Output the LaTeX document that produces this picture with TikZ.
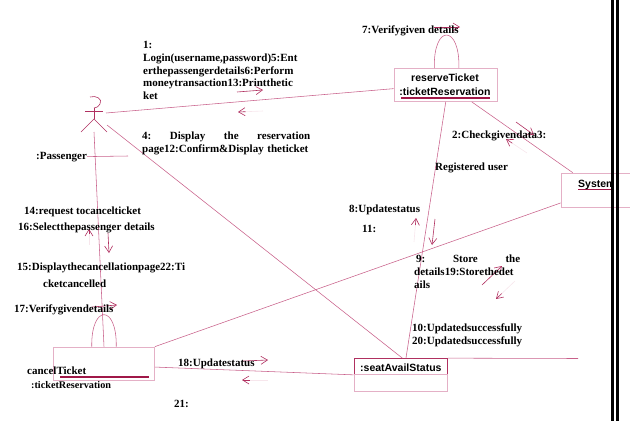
\documentclass[tikz,border=0pt]{standalone}
\usepackage{fontspec}
\setmainfont{Liberation Serif}
\setsansfont{Liberation Sans}
\usetikzlibrary{arrows.meta,calc}
\definecolor{linkpink}{HTML}{C8608A}
\definecolor{boxpink}{HTML}{E4B0C6}
\definecolor{msgdark}{HTML}{B03060}
\definecolor{msgpale}{HTML}{F7E6EC}
\definecolor{barbdark}{HTML}{A01848}
\tikzset{
  linkline/.style={draw=linkpink,line width=0.55pt},
  objbox/.style={draw=boxpink,line width=0.7pt,minimum width=#1,inner sep=0pt},
  msgarrow/.style={draw=msgdark,line width=0.6pt,-{Straight Barb[length=6.5pt,width=8pt]}},
  msgfaint/.style={draw=msgpale,line width=0.6pt},
  underbar/.style={draw=barbdark,line width=1.3pt},
  msgtext/.style={font=\fontsize{11}{12.8}\selectfont\bfseries,inner sep=0pt,anchor=west,align=left},
  objtext/.style={font=\fontsize{10.5}{14}\selectfont\sffamily\bfseries,inner sep=0pt,align=center}
}
\newcommand{\faintmsg}[2]{\draw[msgfaint] #1 -- #2; \draw[msgarrow] ($#1!0.7!#2$) -- #2;}
\begin{document}
\begin{tikzpicture}[x=1pt,y=-1pt]
    \useasboundingbox (0,0) rectangle (630,421);

    % boxes
    \node[objbox=103.5pt,minimum height=33pt] (reserve) at (445.75,85) {};
    \node[objbox=101pt,minimum height=33pt] (cancel) at (104,363.5) {};
    \node[objbox=79pt,minimum height=34pt] (system) at (600.5,190) {};
    \node[objbox=93.5pt,minimum height=16pt,draw=msgdark] (seat) at (400.75,366.5) {};
    \node[objbox=93.5pt,minimum height=16.5pt] (seatlow) at (400.75,382.75) {};

    % actor
    \draw[draw=msgdark,line width=0.6pt] (90,97) .. controls (96,95) and (103,99) .. (100,104) .. controls (98,107) and (96,108) .. (94,108);
    \draw[draw=msgdark,line width=0.6pt] (94,108) -- (94,119);
    \draw[draw=msgdark,line width=0.6pt] (85,111) -- (103,111);
    \draw[draw=msgdark,line width=0.6pt] (81,132) -- (94,119) -- (107,132);
    \coordinate (actorHand) at (106,113);
    \coordinate (actorHip) at (107,125);
    \coordinate (actorFoot) at (94,132);
    \coordinate (seatEnd) at (578,358.5);
    \coordinate (nameEnd) at (128,156);

    % links
    \draw[linkline] (actorHand) -- (reserve.184);
    \draw[linkline] (actorHip) -- (seat.79);
    \draw[linkline] (actorFoot) -- (cancel.north);
    \draw[linkline] (reserve.south) -- (seat.58);
    \draw[linkline] (reserve.-33) -- (system.148);
    \draw[linkline] (cancel.north east) -- (system.198);
    \draw[linkline] (cancel.-4) -- (seat.south west);
    \draw[linkline] (seat.north east) -- (seatEnd);
    \draw[linkline] (reserve.124) .. controls (433,24) and (460,24) .. (reserve.52);
    \draw[linkline] (cancel.126) .. controls (91,304) and (117,304) .. (cancel.54);

    % underlines
    \draw[underbar] (401,98) -- (490,98);
    \draw[underbar] (60,377) -- (149,377);
    \draw[underbar] (578,189.5) -- (611,189.5);

    % message arrows
    \draw[msgarrow] (237,92) -- (263,90);
    \faintmsg{(263,111)}{(238,112)}
    \draw[msgarrow] (434,27) -- (460,27);
    \draw[msgarrow] (516,122) -- (534,135);
    \faintmsg{(527,153)}{(506,139)}
    \draw[msgarrow] (108,233) -- (109,253);
    \faintmsg{(89,245)}{(89,229)}
    \draw[msgarrow] (92,307) -- (117,305);
    \draw[msgarrow] (243,361) -- (268,360);
    \faintmsg{(268,380)}{(242,380)}
    \faintmsg{(414,242)}{(416,218)}
    \draw[msgarrow] (435,219) -- (432,245);
    \draw[msgarrow] (482,285) -- (502,266);
    \faintmsg{(515,281)}{(496,299)}

    % object names
    \node[objtext] (reservename) at (445,85) {reserveTicket\\:ticketReservation};
    \node[objtext,anchor=west] (seatname) at (360,368) {:seatAvailStatus};
    \begin{scope}
      \clip (561,173) rectangle (611,207);
      \node[objtext,anchor=west] (systemname) at (578,185) {System};
    \end{scope}

    % messages
    \node[msgtext,anchor=north west] (msgone) at (143,41) {1:\\Login(username,password)5:Ent\\erthepassengerdetails6:Perform\\moneytransaction13:Printthetic\\ket};
    \node[msgtext,anchor=north west,text width=168pt] (msgfour) at (142,131.5) {4:\hfill Display\hfill the\hfill reservation\\page12:Confirm\&Display theticket};
    \node[msgtext] (passenger) at (36,157) {:Passenger};
    \draw[linkline] (passenger) -- (nameEnd);
    \node[msgtext] (msgfourteen) at (24,212) {14:request tocancelticket};
    \node[msgtext] (msgsixteen) at (18,228) {16:Selectthepassenger details};
    \node[msgtext] (msgfifteen) at (17,268) {15:Displaythecancellationpage22:Ti};
    \node[msgtext] (msgfifteenb) at (43,284) {cketcancelled};
    \node[msgtext] (msgseventeen) at (14,310) {17:Verifygivendetails};
    \node[msgtext] (cancelname) at (27,371) {cancelTicket};
    \node[msgtext,font=\fontsize{10.2}{12.8}\selectfont\bfseries] (cancelclass) at (31,385) {:ticketReservation};
    \node[msgtext] (msgeighteen) at (178,364) {18:Updatestatus};
    \node[msgtext] (msgtwentyone) at (174,404) {21:};
    \node[msgtext] (msgseven) at (362,31) {7:Verifygiven details};
    \node[msgtext] (msgtwo) at (452,136) {2:Checkgivendata3:};
    \node[msgtext] (registered) at (435,168) {Registered user};
    \node[msgtext] (msgeight) at (349,210) {8:Updatestatus};
    \node[msgtext] (msgeleven) at (362,229) {11:};
    \node[msgtext,anchor=north west,text width=106pt] (msgnine) at (414,255) {\hspace*{2pt}9:\hfill Store\hfill the\\details19:Storethedet\\ails};
    \node[msgtext] (msgten) at (412,329) {10:Updatedsuccessfully};
    \node[msgtext] (msgtwenty) at (412,342) {20:Updatedsuccessfully};

    % page edge bars
    \fill[black] (611,0) rectangle (614,421);
    \fill[black] (616.3,0) rectangle (619,421);
\end{tikzpicture}
\end{document}
